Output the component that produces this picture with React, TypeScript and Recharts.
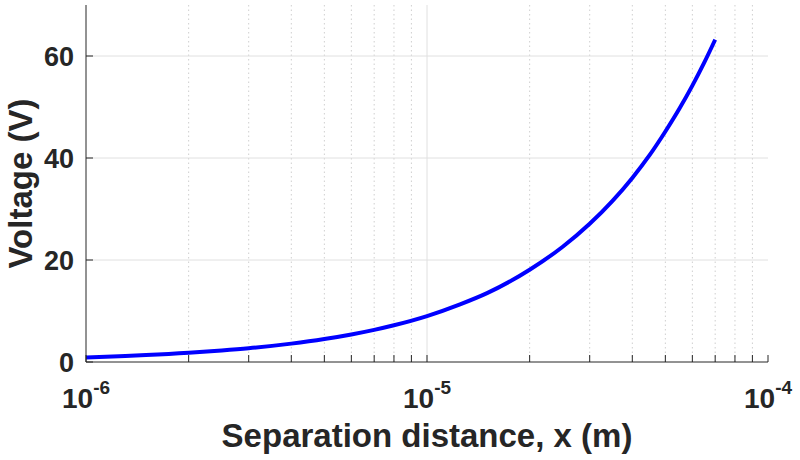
import React from 'react';
import { LineChart, Line, XAxis, YAxis, ReferenceLine } from 'recharts';

// separation distance (m)
const separation = [
  1e-6, 1.25e-6, 1.5e-6, 2e-6, 2.5e-6, 3e-6, 4e-6, 5e-6, 6e-6, 7e-6, 8e-6,
  1e-5, 1.25e-5, 1.5e-5, 2e-5, 2.5e-5, 3e-5, 3.5e-5, 4e-5, 4.5e-5, 5e-5,
  5.5e-5, 6e-5, 6.5e-5, 7e-5,
];
// voltage (V)
const voltage = [
  0.9, 1.13, 1.35, 1.8, 2.26, 2.7, 3.6, 4.5, 5.4, 6.3, 7.2,
  9.0, 11.3, 13.5, 18.1, 22.6, 27.1, 31.6, 36.1, 40.6, 45.2,
  49.7, 54.2, 58.7, 63.2,
];

const majorXTicks = [1e-6, 1e-5, 1e-4];
const minorXTicks = [
  2e-6, 3e-6, 4e-6, 5e-6, 6e-6, 7e-6, 8e-6, 9e-6,
  2e-5, 3e-5, 4e-5, 5e-5, 6e-5, 7e-5, 8e-5, 9e-5,
];
const majorXExponents = ['-6', '-5', '-4'];
const yTicks = [0, 20, 40, 60];

const data = separation.map((x, i) => ({ x, v: voltage[i] }));
const allXTicks = [...majorXTicks, ...minorXTicks].sort((a, b) => a - b);

const AXIS = '#262626';
const FONT = '"Liberation Sans", Arial, Helvetica, sans-serif';
const TICK_LEN = 7;

const BottomTick = (props: any) => {
  const { x, y, payload } = props;
  const idx = majorXTicks.findIndex((m) => Math.abs(m - payload.value) / m < 1e-6);
  return (
    <g>
      <line x1={x} y1={y} x2={x} y2={y - TICK_LEN} stroke={AXIS} strokeWidth={1} />
      {idx >= 0 && (
        <text
          x={x}
          y={y + 46}
          textAnchor="middle"
          fill={AXIS}
          fontFamily={FONT}
          fontWeight="bold"
          fontSize={28}
        >
          <tspan>10</tspan>
          <tspan dy={-14} fontSize={19}>
            {majorXExponents[idx]}
          </tspan>
        </text>
      )}
    </g>
  );
};

const TopTick = (props: any) => {
  const { x, y } = props;
  return <line x1={x} y1={y} x2={x} y2={y + TICK_LEN} stroke={AXIS} strokeWidth={1} />;
};

const LeftTick = (props: any) => {
  const { x, y, payload } = props;
  return (
    <g>
      <line x1={x} y1={y} x2={x + TICK_LEN} y2={y} stroke={AXIS} strokeWidth={1} />
      <text
        x={x - 12}
        y={y + 10}
        textAnchor="end"
        fill={AXIS}
        fontFamily={FONT}
        fontWeight="bold"
        fontSize={27}
      >
        {payload.value}
      </text>
    </g>
  );
};

const RightTick = (props: any) => {
  const { x, y } = props;
  return <line x1={x} y1={y} x2={x - TICK_LEN} y2={y} stroke={AXIS} strokeWidth={1} />;
};

const XLabel = (props: any) => {
  const vb = props.viewBox || {};
  return (
    <text
      x={vb.x + vb.width / 2}
      y={vb.y + 85}
      textAnchor="middle"
      fill={AXIS}
      fontFamily={FONT}
      fontWeight="bold"
      fontSize={33}
    >
      Separation distance, x (m)
    </text>
  );
};

const YLabel = (props: any) => {
  const vb = props.viewBox || {};
  const cx = 32;
  const cy = vb.y + vb.height / 2;
  return (
    <text
      x={cx}
      y={cy}
      textAnchor="middle"
      transform={`rotate(-90, ${cx}, ${cy})`}
      fill={AXIS}
      fontFamily={FONT}
      fontWeight="bold"
      fontSize={33}
    >
      Voltage (V)
    </text>
  );
};

export default function App() {
  return (
    <div style={{ position: 'absolute', left: 0, top: 0, width: 800, height: 460, background: '#fff' }}>
      <LineChart
        width={800}
        height={460}
        data={data}
        margin={{ top: 5, right: 32, left: 0, bottom: 0 }}
      >
        {minorXTicks.map((v) => (
          <ReferenceLine
            key={`mx${v}`}
            x={v}
            stroke="#cfcfcf"
            strokeDasharray="1.5 3"
            strokeWidth={1}
            zIndex={-50}
          />
        ))}
        {majorXTicks.slice(1, -1).map((v) => (
          <ReferenceLine key={`Mx${v}`} x={v} stroke="#e0e0e0" strokeWidth={1} zIndex={-50} />
        ))}
        {yTicks.slice(1).map((v) => (
          <ReferenceLine key={`y${v}`} y={v} stroke="#e0e0e0" strokeWidth={1} zIndex={-50} />
        ))}
        <XAxis
          dataKey="x"
          type="number"
          scale="log"
          domain={[1e-6, 1e-4]}
          allowDataOverflow
          ticks={allXTicks}
          interval={0}
          tickLine={false}
          tickSize={0}
          tickMargin={0}
          axisLine={{ stroke: AXIS, strokeWidth: 1 }}
          tick={<BottomTick />}
          height={98}
          label={<XLabel />}
        />
        <XAxis
          xAxisId="top"
          orientation="top"
          dataKey="x"
          type="number"
          scale="log"
          domain={[1e-6, 1e-4]}
          allowDataOverflow
          ticks={allXTicks}
          interval={0}
          tickLine={false}
          tickSize={0}
          tickMargin={0}
          axisLine={{ stroke: AXIS, strokeWidth: 1 }}
          tick={<TopTick />}
          height={0}
        />
        <YAxis
          type="number"
          domain={[0, 70]}
          allowDataOverflow
          ticks={yTicks}
          interval={0}
          tickLine={false}
          tickSize={0}
          tickMargin={0}
          axisLine={{ stroke: AXIS, strokeWidth: 1 }}
          tick={<LeftTick />}
          width={86}
          label={<YLabel />}
        />
        <YAxis
          yAxisId="right"
          orientation="right"
          type="number"
          domain={[0, 70]}
          allowDataOverflow
          ticks={yTicks}
          interval={0}
          tickLine={false}
          tickSize={0}
          tickMargin={0}
          axisLine={{ stroke: AXIS, strokeWidth: 1 }}
          tick={<RightTick />}
          width={0}
        />
        <Line
          type="monotone"
          dataKey="v"
          stroke="#0000ff"
          strokeWidth={4}
          dot={false}
          activeDot={false}
          isAnimationActive={false}
        />
      </LineChart>
    </div>
  );
}
